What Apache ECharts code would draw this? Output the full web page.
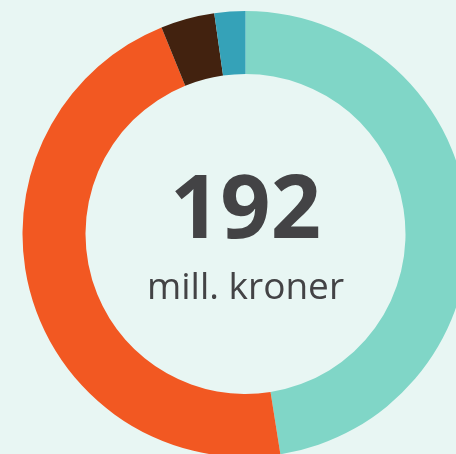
<!DOCTYPE html>
<html lang="no">
<head>
    <meta charset="UTF-8">
    <title>192 mill. kroner</title>
    <script src="https://cdn.jsdelivr.net/npm/echarts@6/dist/echarts.min.js"></script>
    <style type="text/css">
        html, body { margin:0; padding:0; background:#e8f6f3; }
        #main{ width:456px; height:454px; }
    </style>
</head>
<body>
<div id="main"></div>
<script type="application/javascript">
    // slices, clockwise from 12 o'clock
    var categories = ['A', 'B', 'C', 'D'];
    var values = [91.2, 89.0, 7.5, 4.3];
    var colors = ['#80d6c7', '#f25822', '#42220f', '#35a2b8'];
    var totalText = '192';
    var unitText = 'mill. kroner';

    var myChart = echarts.init(document.getElementById('main'));

    var pieData = categories.map(function (name, i) {
        return { name: name, value: values[i], itemStyle: { color: colors[i] } };
    });

    myChart.setOption({
        backgroundColor: '#e8f6f3',
        animation: false,
        series: [{
            type: 'pie',
            center: [245.5, 234],
            radius: [160, 223],
            startAngle: 90,
            clockwise: true,
            silent: true,
            label: { show: false },
            labelLine: { show: false },
            itemStyle: { borderWidth: 0 },
            data: pieData
        }],
        graphic: [{
            type: 'text',
            style: {
                text: totalText,
                x: 245.5,
                y: 213,
                textAlign: 'center',
                textVerticalAlign: 'middle',
                fill: '#434345',
                font: 'bold 88px "Open Sans", sans-serif'
            }
        }, {
            type: 'text',
            style: {
                text: unitText,
                x: 245.5,
                y: 288,
                textAlign: 'center',
                textVerticalAlign: 'middle',
                fill: '#434345',
                font: '37px "Open Sans", sans-serif'
            }
        }]
    });
</script>
</body>
</html>
